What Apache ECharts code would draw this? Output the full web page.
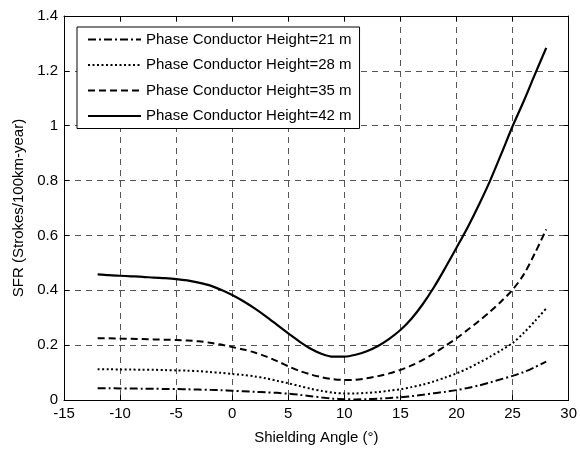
<!DOCTYPE html>
<html>
<head>
<meta charset="utf-8">
<script src="https://cdn.jsdelivr.net/npm/echarts@6/dist/echarts.min.js"></script>
<style>
  html, body { margin: 0; padding: 0; background: #fff; }
  #main { width: 580px; height: 450px; }
</style>
</head>
<body>
<div id="main"></div>
<script>
// shielding angle (deg)
var angles = [-12, -11, -10, -9, -8, -7, -6, -5, -4, -3, -2, -1, 0, 1, 2, 3, 4, 5, 6, 7, 8, 9, 10,
    11, 12, 13, 14, 15, 16, 17, 18, 19, 20, 21, 22, 23, 24, 25, 26, 27, 28];

var sfr21 = [0.043, 0.043, 0.042, 0.042, 0.041, 0.041, 0.040, 0.040, 0.039, 0.038, 0.037, 0.036, 0.034, 0.032, 0.030, 0.028, 0.026, 0.023, 0.019, 0.014, 0.009, 0.005, 0.003,
    0.002, 0.003, 0.005, 0.007, 0.010, 0.014, 0.019, 0.025, 0.030, 0.036, 0.044, 0.053, 0.064, 0.076, 0.088, 0.102, 0.120, 0.140];
var sfr28 = [0.112, 0.112, 0.111, 0.111, 0.110, 0.110, 0.109, 0.108, 0.107, 0.105, 0.102, 0.099, 0.095, 0.091, 0.086, 0.079, 0.070, 0.061, 0.051, 0.041, 0.033, 0.027, 0.024,
    0.024, 0.026, 0.029, 0.034, 0.039, 0.047, 0.056, 0.068, 0.082, 0.097, 0.115, 0.136, 0.158, 0.182, 0.208, 0.245, 0.288, 0.334];
var sfr35 = [0.225, 0.225, 0.224, 0.223, 0.222, 0.221, 0.220, 0.219, 0.217, 0.214, 0.209, 0.202, 0.193, 0.184, 0.173, 0.159, 0.142, 0.123, 0.106, 0.093, 0.083, 0.076, 0.073,
    0.074, 0.079, 0.087, 0.097, 0.110, 0.126, 0.146, 0.170, 0.197, 0.225, 0.256, 0.288, 0.322, 0.360, 0.402, 0.458, 0.536, 0.622];
var sfr42 = [0.458, 0.455, 0.453, 0.451, 0.449, 0.446, 0.444, 0.441, 0.436, 0.428, 0.418, 0.402, 0.383, 0.360, 0.334, 0.305, 0.274, 0.243, 0.213, 0.187, 0.168, 0.158, 0.158,
    0.165, 0.178, 0.197, 0.223, 0.255, 0.297, 0.350, 0.412, 0.482, 0.555, 0.630, 0.712, 0.800, 0.898, 0.998, 1.090, 1.188, 1.284];

var xTicks = [-15, -10, -5, 0, 5, 10, 15, 20, 25, 30];
var yTicks = [0, 0.2, 0.4, 0.6, 0.8, 1, 1.2, 1.4];

function pairs(ys) {
    return angles.map(function (a, i) { return [a, ys[i]]; });
}

var font = 'Liberation Sans, Arial, sans-serif';
var gridLine = { show: true, lineStyle: { color: '#555', width: 1, type: [6, 5] } };
var tickIn = { show: true, inside: true, length: 5, lineStyle: { color: '#000' } };
var axisBox = { show: true, onZero: false, lineStyle: { color: '#000', width: 1 } };

var chart = echarts.init(document.getElementById('main'));
chart.setOption({
    animation: false,
    backgroundColor: '#fff',
    color: ['#000', '#000', '#000', '#000'],
    textStyle: { fontFamily: font },
    grid: { left: 64, right: 9, top: 16, bottom: 50 },
    legend: {
        orient: 'vertical',
        left: 77,
        top: 27,
        padding: [5, 8, 5, 10],
        itemWidth: 53,
        itemHeight: 14,
        itemGap: 10.5,
        borderColor: '#000',
        borderWidth: 1,
        borderRadius: 0,
        backgroundColor: '#fff',
        itemStyle: { opacity: 0 },
        textStyle: { color: '#000', fontSize: 15, fontFamily: font },
        data: ['Phase Conductor Height=21 m', 'Phase Conductor Height=28 m',
            'Phase Conductor Height=35 m', 'Phase Conductor Height=42 m']
    },
    xAxis: [{
        type: 'value', min: xTicks[0], max: xTicks[xTicks.length - 1], interval: 5,
        name: 'Shielding Angle (°)', nameLocation: 'middle', nameGap: 30,
        nameTextStyle: { color: '#000', fontSize: 15, fontFamily: font },
        axisLine: axisBox, axisTick: tickIn, splitLine: gridLine,
        axisLabel: { color: '#000', fontSize: 15, margin: 6, fontFamily: font }
    }, {
        type: 'value', position: 'top', min: xTicks[0], max: xTicks[xTicks.length - 1], interval: 5,
        axisLine: axisBox, axisTick: tickIn, splitLine: { show: false }, axisLabel: { show: false }
    }],
    yAxis: [{
        type: 'value', min: 0, max: 1.4, interval: 0.2,
        name: 'SFR (Strokes/100km-year)', nameLocation: 'middle', nameGap: 38,
        nameTextStyle: { color: '#000', fontSize: 15, fontFamily: font },
        axisLine: axisBox, axisTick: tickIn, splitLine: gridLine,
        axisLabel: { color: '#000', fontSize: 15, margin: 6, fontFamily: font }
    }, {
        type: 'value', position: 'right', min: 0, max: 1.4, interval: 0.2,
        axisLine: axisBox, axisTick: tickIn, splitLine: { show: false }, axisLabel: { show: false }
    }],
    series: [
        { name: 'Phase Conductor Height=21 m', type: 'line', data: pairs(sfr21), smooth: 0.3, symbol: 'none',
          itemStyle: { color: '#000' }, lineStyle: { color: '#000', width: 2, type: [8, 3, 2, 3] } },
        { name: 'Phase Conductor Height=28 m', type: 'line', data: pairs(sfr28), smooth: 0.3, symbol: 'none',
          itemStyle: { color: '#000' }, lineStyle: { color: '#000', width: 2, type: [2, 2.5] } },
        { name: 'Phase Conductor Height=35 m', type: 'line', data: pairs(sfr35), smooth: 0.3, symbol: 'none',
          itemStyle: { color: '#000' }, lineStyle: { color: '#000', width: 2, type: [7, 4] } },
        { name: 'Phase Conductor Height=42 m', type: 'line', data: pairs(sfr42), smooth: 0.3, symbol: 'none',
          itemStyle: { color: '#000' }, lineStyle: { color: '#000', width: 2.2, type: 'solid' } }
    ]
});
</script>
</body>
</html>
